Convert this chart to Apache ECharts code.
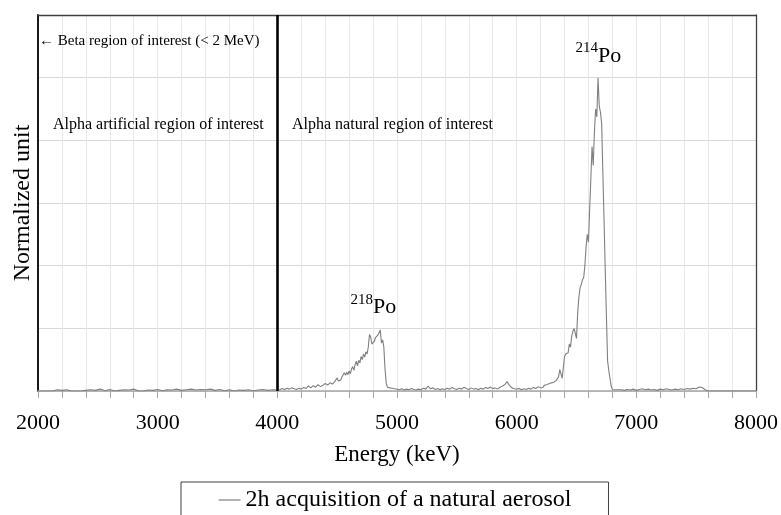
<!DOCTYPE html>
<html><head><meta charset="utf-8">
<script src="https://cdn.jsdelivr.net/npm/echarts@6/dist/echarts.min.js"></script>
<style>html,body{margin:0;padding:0;background:#fff}#c{width:781px;height:515px}</style>
</head><body><div id="c"></div>
<script>
// ---- Data (energy keV, normalized counts) ----
const betaAndArtificialRegion = [[2000,0],[2040,0],[2080,0],[2120,0],[2160,0.004],[2200,0.002],[2240,0.004],[2280,0],[2320,0],[2360,0],[2400,0.002],[2440,0.004],[2480,0.002],[2520,0.006],[2560,0.001],[2600,0.005],[2640,0],[2680,0.002],[2720,0.004],[2760,0.003],[2800,0.006],[2840,0],[2880,0],[2920,0.003],[2960,0.002],[3000,0.005],[3040,0.001],[3080,0.004],[3120,0.003],[3160,0.006],[3200,0.002],[3240,0.004],[3280,0.006],[3320,0.003],[3360,0.005],[3400,0.004],[3440,0.006],[3480,0.002],[3520,0.005],[3560,0.001],[3600,0.004],[3640,0],[3680,0.003],[3720,0.002],[3760,0.004],[3800,0.001],[3840,0.003],[3880,0.005],[3920,0.002],[3960,0.004],[4000,0.003]];
const rise218 = [[4020,0.004],[4040,0.008],[4060,0.005],[4080,0.009],[4100,0.006],[4120,0.010],[4140,0.007],[4160,0.005],[4180,0.009],[4200,0.006],[4220,0.011],[4240,0.008],[4260,0.016],[4280,0.010],[4300,0.017],[4320,0.012],[4340,0.020],[4360,0.014],[4380,0.018],[4400,0.024],[4420,0.019],[4440,0.026],[4460,0.022],[4480,0.030]];
const peak218Po = [[4490,0.026],[4500,0.042],[4510,0.032],[4520,0.038],[4530,0.035],[4540,0.045],[4550,0.040],[4560,0.058],[4570,0.050],[4580,0.060],[4590,0.052],[4600,0.064],[4610,0.055],[4620,0.070],[4630,0.078],[4640,0.066],[4650,0.085],[4660,0.095],[4670,0.080],[4680,0.098],[4690,0.090],[4700,0.110],[4710,0.100],[4720,0.118],[4730,0.108],[4740,0.125],[4750,0.118],[4760,0.140],[4770,0.180],[4780,0.172],[4790,0.150],[4800,0.147],[4810,0.158],[4820,0.170],[4830,0.166],[4840,0.178],[4850,0.182],[4860,0.195],[4870,0.153],[4880,0.163],[4890,0.140],[4900,0.070],[4910,0.025],[4920,0.012],[4930,0.008],[4940,0.010],[4950,0.006],[4960,0.009],[4970,0.005],[4980,0.007],[4990,0.004],[5000,0.006]];
const valleyRegion = [[5020,0.004],[5040,0.007],[5060,0.003],[5080,0.006],[5100,0.004],[5120,0.008],[5140,0.005],[5160,0.003],[5180,0.006],[5200,0.004],[5220,0.009],[5240,0.006],[5260,0.016],[5280,0.007],[5300,0.010],[5320,0.005],[5340,0.008],[5360,0.004],[5380,0.007],[5400,0.005],[5420,0.009],[5440,0.006],[5460,0.011],[5480,0.007],[5500,0.005],[5520,0.009],[5540,0.006],[5560,0.012],[5580,0.008],[5600,0.005],[5620,0.010],[5640,0.006],[5660,0.008],[5680,0.004],[5700,0.009],[5720,0.006],[5740,0.011],[5760,0.008],[5780,0.013],[5800,0.007],[5820,0.010],[5840,0.006],[5860,0.012],[5880,0.015],[5900,0.020],[5920,0.030],[5940,0.018],[5960,0.010],[5980,0.007],[6000,0.006],[6020,0.008],[6040,0.004],[6060,0.007],[6080,0.005],[6100,0.009],[6120,0.006],[6140,0.011],[6160,0.008],[6180,0.014],[6200,0.010]];
const peak214Po = [[6210,0.014],[6220,0.011],[6230,0.018],[6240,0.014],[6250,0.020],[6260,0.016],[6270,0.023],[6280,0.019],[6290,0.026],[6300,0.022],[6310,0.028],[6320,0.025],[6330,0.033],[6340,0.030],[6350,0.045],[6360,0.068],[6370,0.055],[6380,0.040],[6390,0.075],[6400,0.110],[6410,0.118],[6420,0.112],[6430,0.122],[6440,0.150],[6450,0.140],[6460,0.175],[6470,0.190],[6480,0.200],[6490,0.205],[6500,0.168],[6510,0.250],[6520,0.300],[6530,0.330],[6540,0.340],[6550,0.355],[6560,0.362],[6570,0.400],[6580,0.460],[6590,0.500],[6600,0.475],[6610,0.580],[6620,0.680],[6630,0.780],[6640,0.720],[6650,0.830],[6660,0.900],[6670,0.875],[6680,1.000],[6690,0.910],[6700,0.890],[6710,0.855],[6720,0.700],[6730,0.550],[6740,0.390],[6750,0.240],[6760,0.095],[6770,0.065],[6780,0.040],[6790,0.015],[6800,0.005],[6810,0.003],[6820,0.004],[6830,0.002],[6840,0.004],[6850,0.003]];
const tailRegion = [[6875,0.004],[6900,0.002],[6925,0.005],[6950,0.003],[6975,0.006],[7000,0.002],[7025,0.005],[7050,0.007],[7075,0.004],[7100,0.006],[7125,0.003],[7150,0.005],[7175,0.002],[7200,0.006],[7225,0.004],[7250,0.007],[7275,0.005],[7300,0.003],[7325,0.006],[7350,0.004],[7375,0.007],[7400,0.005],[7425,0.008],[7450,0.006],[7475,0.009],[7500,0.007],[7525,0.013],[7550,0.011],[7575,0.004],[7600,0],[7700,0],[7800,0],[7900,0],[8000,0]];
const seriesName = '2h acquisition of a natural aerosol';
const regionBoundary = 4000;
const xTickLabels = [2000,3000,4000,5000,6000,7000,8000];

const spectrum = [].concat(betaAndArtificialRegion, rise218, peak218Po, valleyRegion, peak214Po, tailRegion);

const FONT = 'Liberation Serif';
const chart = echarts.init(document.getElementById('c'), null, {renderer:'canvas'});

function txt(x, y, text, size, align) {
  return {type:'text', x:x, y:y, z:100, silent:true,
    style:{text:text, fill:'#000', font: size + 'px "' + FONT + '"',
      align: align, verticalAlign:'middle', textAlign: align, textVerticalAlign:'middle'}};
}

chart.setOption({
  animation:false,
  backgroundColor:'#fff',
  textStyle:{fontFamily:FONT},
  grid:{left:38, right:23, top:15, bottom:124, containLabel:false},
  legend:{
    left:181, top:482, padding:[6,37,14,37],
    borderColor:'#404040', borderWidth:1,
    itemWidth:22, itemHeight:14,
    itemStyle:{opacity:0},
    lineStyle:{color:'#808080', width:1.2},
    textStyle:{fontSize:24, color:'#000', fontFamily:FONT},
    data:[seriesName]
  },
  xAxis:[{
    type:'value', min:2000, max:8000, interval:200,
    name:'Energy (keV)', nameLocation:'middle', nameGap:52,
    nameTextStyle:{fontSize:23, color:'#000', fontFamily:FONT},
    axisLine:{show:true, onZero:false, lineStyle:{color:'#a6a6a6', width:1.5}},
    axisTick:{show:true, length:7, lineStyle:{color:'#a6a6a6'}},
    axisLabel:{fontSize:22, color:'#000', margin:21, fontFamily:FONT,
      formatter: function(v){ return xTickLabels.indexOf(v) >= 0 ? String(v) : ''; }},
    splitLine:{show:true, lineStyle:{color:'#e8e8e8', width:1}}
  },{
    type:'value', position:'top', min:2000, max:8000,
    axisLine:{show:true, onZero:false, lineStyle:{color:'#404040', width:1.3}},
    axisTick:{show:false}, axisLabel:{show:false}, splitLine:{show:false}
  }],
  yAxis:[{
    type:'value', min:0, max:1.2, interval:0.2,
    name:'Normalized unit', nameLocation:'middle', nameGap:3,
    nameTextStyle:{fontSize:24, color:'#000', fontFamily:FONT},
    axisLine:{show:true, onZero:false, lineStyle:{color:'#000', width:1.8}},
    axisTick:{show:false}, axisLabel:{show:false},
    splitLine:{show:true, lineStyle:{color:'#d9d9d9', width:1}}
  },{
    type:'value', position:'right', min:0, max:1.2,
    axisLine:{show:true, onZero:false, lineStyle:{color:'#404040', width:1.3}},
    axisTick:{show:false}, axisLabel:{show:false}, splitLine:{show:false}
  }],
  series:[{
    name:seriesName, type:'line', data:spectrum,
    symbol:'none', showSymbol:false,
    lineStyle:{color:'#808080', width:1.1},
    itemStyle:{color:'#808080'},
    z:3,
    markLine:{
      silent:true, symbol:['none','none'], label:{show:false},
      lineStyle:{color:'#000', width:2.6, type:'solid'},
      emphasis:{disabled:true},
      data:[{xAxis:regionBoundary}]
    }
  }],
  graphic:[
    txt(39, 41, '\u2190 Beta region of interest (< 2 MeV)', 15, 'left'),
    txt(53, 125, 'Alpha artificial region of interest', 16, 'left'),
    txt(292, 125, 'Alpha natural region of interest', 16, 'left'),
    txt(598, 48, '214', 15, 'right'),
    txt(598, 56, 'Po', 22, 'left'),
    txt(373, 300, '218', 15, 'right'),
    txt(373, 307, 'Po', 22, 'left')
  ]
});
</script></body></html>
